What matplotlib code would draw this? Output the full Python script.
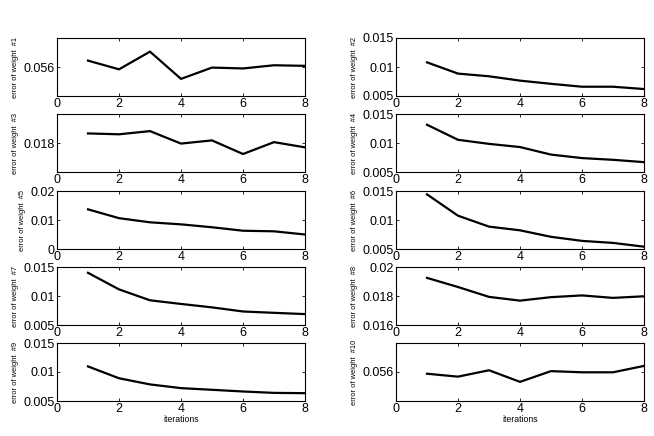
import matplotlib
matplotlib.use("Agg")
import matplotlib.pyplot as plt
from matplotlib.ticker import FixedLocator, FuncFormatter

plt.rcParams['font.family'] = ['Liberation Sans', 'DejaVu Sans']

iterations = [1, 2, 3, 4, 5, 6, 7, 8]

w1 = [0.05622, 0.05592, 0.05653, 0.05559, 0.05598, 0.05595, 0.05606, 0.05604]
w2 = [0.0108, 0.00886, 0.0084, 0.00765, 0.0071, 0.0066, 0.0066, 0.0062]
w3 = [0.01833, 0.01830, 0.01841, 0.01798, 0.01809, 0.01762, 0.01803, 0.01785]
w4 = [0.01315, 0.01055, 0.00985, 0.0093, 0.0080, 0.0074, 0.0071, 0.0067]
w5 = [0.01368, 0.01063, 0.0092, 0.0085, 0.0075, 0.0063, 0.0061, 0.0050]
w6 = [0.01442, 0.01074, 0.00886, 0.00822, 0.0071, 0.0064, 0.00605, 0.0054]
w7 = [0.0140, 0.01114, 0.00926, 0.00863, 0.00804, 0.00733, 0.0071, 0.00688]
w8 = [0.01925, 0.01862, 0.01794, 0.01768, 0.01792, 0.01804, 0.01787, 0.01798]
w9 = [0.01096, 0.00892, 0.00786, 0.00722, 0.00693, 0.00664, 0.0064, 0.00635]
w10 = [0.05594, 0.05584, 0.05606, 0.05566, 0.05603, 0.05599, 0.05599, 0.05621]

series = [w1, w2, w3, w4, w5, w6, w7, w8, w9, w10]
ylims = [(0.055, 0.057), (0.005, 0.015), (0.017, 0.019), (0.005, 0.015),
         (0.0, 0.02), (0.005, 0.015), (0.005, 0.015), (0.016, 0.02),
         (0.005, 0.015), (0.055, 0.057)]
yticks = [[0.056], [0.005, 0.01, 0.015], [0.018], [0.005, 0.01, 0.015],
          [0, 0.01, 0.02], [0.005, 0.01, 0.015], [0.005, 0.01, 0.015],
          [0.016, 0.018, 0.02], [0.005, 0.01, 0.015], [0.056]]
xticks = [0, 2, 4, 6, 8]

W, H = 654, 436
fig = plt.figure(figsize=(W / 100, H / 100), dpi=100)

lefts = [57, 396]
width = 248
tops = [38, 114, 191, 267, 343]
height = 58

def fmt(v, pos):
    return '%g' % v

for i, data in enumerate(series):
    row, col = i // 2, i % 2
    l = lefts[col]
    t = tops[row]
    ax = fig.add_axes([l / W, 1 - (t + height) / H, width / W, height / H])
    ax.plot(iterations, data, color='black', lw=1.6)
    ax.set_xlim(0, 8)
    ax.set_ylim(*ylims[i])
    ax.xaxis.set_major_locator(FixedLocator(xticks))
    ax.yaxis.set_major_locator(FixedLocator(yticks[i]))
    ax.yaxis.set_major_formatter(FuncFormatter(fmt))
    ax.tick_params(direction='in', top=True, right=True, labelsize=9,
                   length=2.5, width=0.6, pad=1.5)
    for sp in ax.spines.values():
        sp.set_linewidth(0.8)
    ax.set_ylabel('error of weight  #%d' % (i + 1), fontsize=5.4, labelpad=3)
    if row == 4:
        ax.set_xlabel('iterations', fontsize=6.3, labelpad=0)

fig.savefig('out.png', dpi=100)
